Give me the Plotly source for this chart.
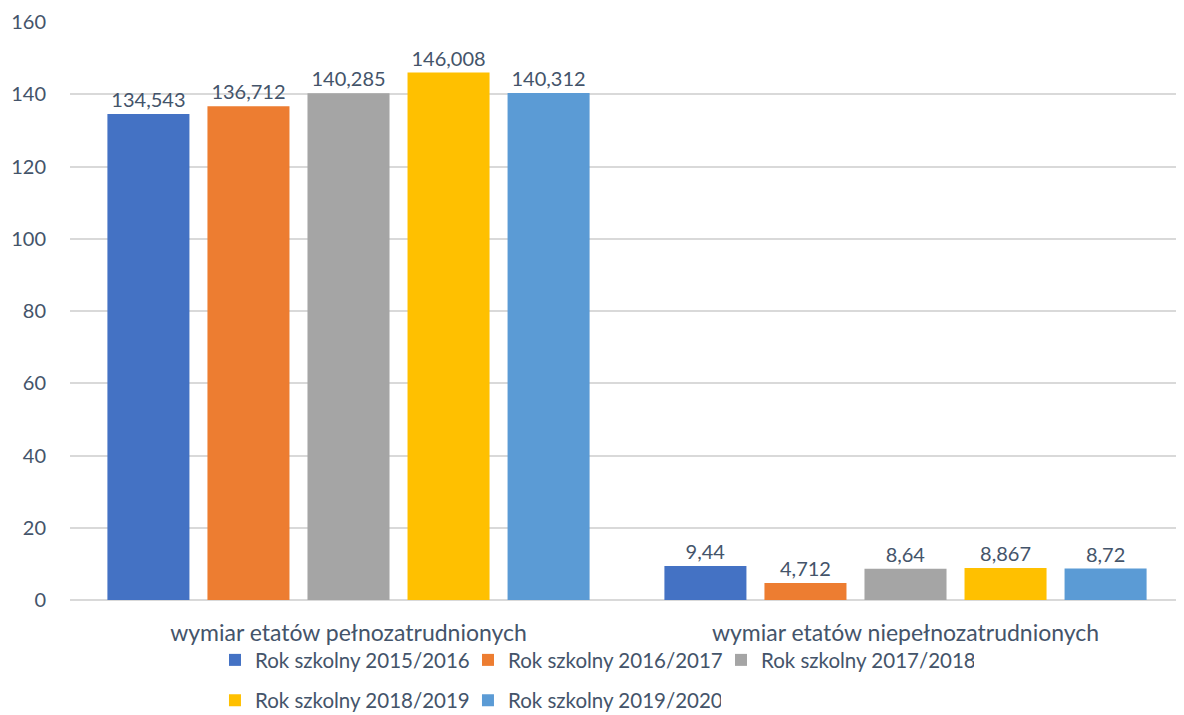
import plotly.graph_objects as go

categories = ["wymiar etatów pełnozatrudnionych", "wymiar etatów niepełnozatrudnionych"]
series_names = ["Rok szkolny 2015/2016", "Rok szkolny 2016/2017", "Rok szkolny 2017/2018",
                "Rok szkolny 2018/2019", "Rok szkolny 2019/2020"]
values_2015 = [134.543, 9.44]
values_2016 = [136.712, 4.712]
values_2017 = [140.285, 8.64]
values_2018 = [146.008, 8.867]
values_2019 = [140.312, 8.72]
labels_2015 = ["134,543", "9,44"]
labels_2016 = ["136,712", "4,712"]
labels_2017 = ["140,285", "8,64"]
labels_2018 = ["146,008", "8,867"]
labels_2019 = ["140,312", "8,72"]
y_ticks = [0, 20, 40, 60, 80, 100, 120, 140, 160]

series_values = [values_2015, values_2016, values_2017, values_2018, values_2019]
series_labels = [labels_2015, labels_2016, labels_2017, labels_2018, labels_2019]
colors = ["#4472C4", "#ED7D31", "#A5A5A5", "#FFC000", "#5B9BD5"]
legend_ids = ["legend", "legend", "legend", "legend2", "legend2"]

FONT = "Lato"
TXT = "#44546A"

fig = go.Figure()
for name, vals, labs, col, lg in zip(series_names, series_values, series_labels, colors, legend_ids):
    fig.add_trace(go.Bar(
        x=categories, y=vals, name=name, text=labs,
        textposition="outside", cliponaxis=False,
        textfont=dict(family=FONT, size=20, color=TXT),
        marker=dict(color=col, line=dict(width=0)),
        legend=lg,
    ))

legend_common = dict(orientation="h", xanchor="left", yanchor="top",
                      xref="container", yref="container",
                      font=dict(family=FONT, size=20.5, color=TXT),
                      bgcolor="rgba(0,0,0,0)", itemwidth=30, entrywidth=208)

fig.update_layout(
    width=1176, height=707,
    margin=dict(l=62, r=0, t=14, b=115, autoexpand=False),
    paper_bgcolor="white", plot_bgcolor="white",
    barmode="group", bargap=0.102, bargroupgap=0.18,
    font=dict(family=FONT, color=TXT),
    xaxis=dict(showline=False, ticks="", tickfont=dict(family=FONT, size=23, color=TXT),
               ticklabelstandoff=17, automargin=False),
    yaxis=dict(range=[0, 160], tickvals=y_ticks, showgrid=True, gridcolor="#D9D9D9", gridwidth=1.5,
               zeroline=True, zerolinecolor="#D9D9D9", zerolinewidth=1.5, showline=False,
               tickfont=dict(family=FONT, size=20, color=TXT), ticklabelstandoff=23,
               automargin=False),
    legend=dict(x=0.176, y=0.106, **legend_common),
    legend2=dict(x=0.176, y=0.049, **legend_common),
)

fig.write_html("out.html")
